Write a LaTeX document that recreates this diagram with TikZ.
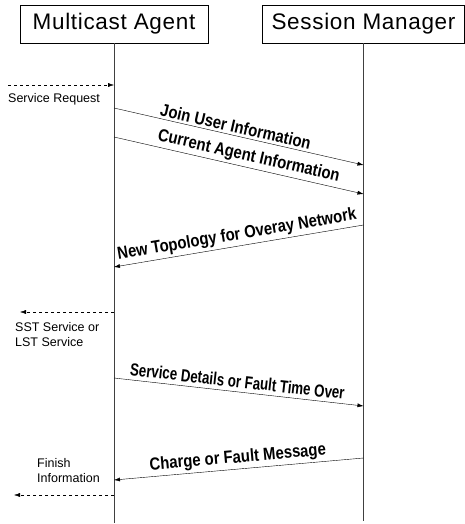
\documentclass[tikz,border=0pt]{standalone}
\usepackage{fontspec}
\setmainfont{Liberation Sans}
\newfontfamily\msgfont[FakeStretch=0.85]{Liberation Sans}
\newfontfamily\narrowmsgfont[FakeStretch=0.76]{Liberation Sans}
\usetikzlibrary{arrows.meta}
\tikzset{
  entity/.style={draw,thin,minimum height=38pt,inner sep=0pt,
    font=\fontsize{22.5}{24}\selectfont\addfontfeature{LetterSpace=3}},
  lifeline/.style={draw=black!75,semithick},
  msg/.style={-{Latex[length=6pt,width=4pt]},thin},
  note/.style={-{Latex[length=6pt,width=4pt]},thin,dashed},
  msglabel/.style={sloped,above,inner sep=2.5pt,
    font=\msgfont\fontsize{17.5}{20}\selectfont\bfseries},
  small/.style={inner sep=0pt,align=left,
    font=\fontsize{12.5}{15}\selectfont}
}
\begin{document}
\begin{tikzpicture}[x=1pt,y=-1pt]
  \useasboundingbox (0,0) rectangle (465,524);
  % the two entities
  \node[entity,minimum width=188pt] (agent) at (114,24) {Multicast Agent};
  \node[entity,minimum width=202pt] (manager) at (363.5,24) {Session Manager};
  \coordinate (agentend) at (agent.south |- 0,523);
  \coordinate (managerend) at (manager.south |- 0,521);
  \draw[lifeline] (agent.south) -- (agentend);
  \draw[lifeline] (manager.south) -- (managerend);
  % points on the life lines
  \coordinate (a0) at (114,85);
  \coordinate (a1) at (114,108);
  \coordinate (m1) at (363.5,165);
  \coordinate (a2) at (114,137);
  \coordinate (m2) at (363.5,194);
  \coordinate (m3) at (363.5,225);
  \coordinate (a3) at (114,267);
  \coordinate (a4) at (114,312);
  \coordinate (a5) at (114,378);
  \coordinate (m5) at (363.5,406);
  \coordinate (m6) at (363.5,458);
  \coordinate (a6) at (114,480);
  \coordinate (a7) at (114,495);
  % free ends of the outside arrows
  \coordinate (in0) at (8,85);
  \coordinate (out4) at (20,312);
  \coordinate (out7) at (14,495);
  % request from outside
  \draw[note] (in0) -- (a0);
  \node[small,anchor=west] (req) at (8,99) {Service Request};
  % messages
  \draw[msg] (a1) -- node[msglabel,pos=0.48] (lbl1) {Join User Information} (m1);
  \draw[msg] (a2) -- node[msglabel,pos=0.53] (lbl2) {Current Agent Information} (m2);
  \draw[msg] (m3) -- node[msglabel] (lbl3) {New Topology for Overay Network} (a3);
  \draw[note] (a4) -- (out4);
  \node[small,anchor=west] (sst) at (15,335) {SST Service or\\LST Service};
  \draw[msg] (a5) -- node[msglabel,pos=0.49,inner sep=4pt,font=\narrowmsgfont\fontsize{17.5}{20}\selectfont\bfseries] (lbl5) {Service Details or Fault Time Over} (m5);
  \draw[msg] (m6) -- node[msglabel] (lbl6) {Charge or Fault Message} (a6);
  \node[small,anchor=west] (fin) at (37,471) {Finish\\Information};
  \draw[note] (a7) -- (out7);
\end{tikzpicture}
\end{document}
